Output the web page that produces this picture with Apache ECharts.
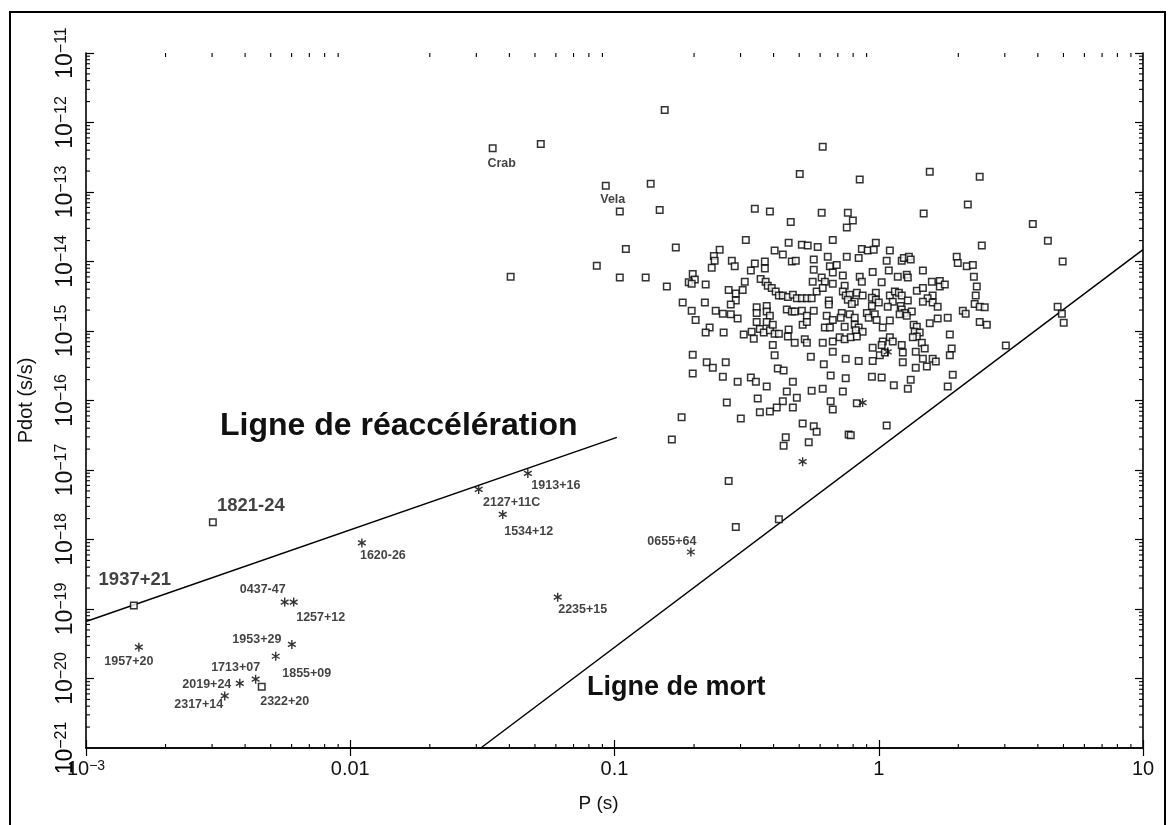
<!DOCTYPE html>
<html>
<head>
<meta charset="utf-8">
<title>Diagramme P – Pdot des pulsars</title>
<script src="https://cdn.jsdelivr.net/npm/echarts/dist/echarts.min.js"></script>
<style>
  html, body { margin: 0; padding: 0; background: #ffffff; }
  #chart { width: 1168px; height: 825px; }
</style>
</head>
<body>
<div id="chart"></div>
<script>
// ---- Data: every pulsar is stored as [log10 P (s), log10 Pdot (s/s)] ----

// Ordinary (non-recycled) pulsars, drawn as open squares
const normalPulsars = [
  [-0.768,-13.80],[-0.503,-13.69],[-0.602,-13.83],[-0.624,-13.92],[-0.621,-13.99],[-0.632,-14.09],[-0.556,-13.99],[-0.545,-14.07],[-0.484,-14.13],[-0.469,-14.03],
  [-0.431,-14.00],[-0.431,-14.10],[-0.394,-13.84],[-0.363,-13.90],[-0.341,-13.73],[-0.291,-13.76],[-0.269,-13.77],[-0.231,-13.79],[-0.174,-13.69],[-0.121,-13.51],
  [-0.329,-14.00],[-0.314,-13.99],[-0.246,-13.97],[-0.193,-13.93],[-0.121,-13.93],[-0.246,-14.12],[-0.185,-14.07],[-0.159,-14.05],[-0.174,-14.16],[-0.136,-14.20],
  [-0.704,-14.18],[-0.696,-14.26],[-0.719,-14.30],[-0.708,-14.32],[-0.802,-14.36],[-0.655,-14.33],[-0.507,-14.29],[-0.447,-14.25],[-0.428,-14.29],[-0.420,-14.35],
  [-0.405,-14.38],[-0.390,-14.43],[-0.378,-14.49],[-0.363,-14.49],[-0.344,-14.51],[-0.325,-14.48],[-0.310,-14.53],[-0.291,-14.53],[-0.272,-14.53],[-0.254,-14.53],
  [-0.235,-14.43],[-0.250,-14.29],[-0.216,-14.23],[-0.204,-14.29],[-0.212,-14.38],[-0.174,-14.32],[-0.129,-14.35],[-0.136,-14.43],[-0.125,-14.49],[-0.189,-14.56],
  [-0.189,-14.62],[-0.568,-14.41],[-0.541,-14.46],[-0.515,-14.41],[-0.541,-14.56],[-0.560,-14.62],[-0.742,-14.59],[-0.658,-14.59],[-0.708,-14.71],[-0.617,-14.71],
  [-0.590,-14.75],[-0.560,-14.76],[-0.534,-14.82],[-0.693,-14.84],[-0.462,-14.66],[-0.462,-14.74],[-0.424,-14.64],[-0.424,-14.72],[-0.412,-14.78],[-0.462,-14.87],
  [-0.424,-14.87],[-0.348,-14.69],[-0.329,-14.72],[-0.318,-14.72],[-0.291,-14.71],[-0.272,-14.78],[-0.246,-14.71],[-0.197,-14.78],[-0.174,-14.84],[-0.140,-14.74],
  [-0.144,-14.81],[-0.288,-14.91],[-0.272,-14.87],[-0.640,-14.95],[-0.655,-15.02],[-0.587,-15.02],[-0.511,-15.05],[-0.481,-15.01],[-0.473,-15.11],[-0.450,-14.97],
  [-0.435,-15.02],[-0.412,-14.99],[-0.401,-14.91],[-0.394,-15.04],[-0.378,-15.04],[-0.341,-14.98],[-0.344,-15.08],[-0.401,-15.20],[-0.318,-15.17],[-0.280,-15.12],
  [-0.272,-15.17],[-0.212,-15.17],[-0.204,-14.95],[-0.185,-14.95],[-0.174,-15.15],[-0.148,-15.09],[-0.129,-15.12],
  [-0.011,-13.73],[-0.064,-13.82],[-0.042,-13.84],[-0.019,-13.83],[0.042,-13.84],[0.390,-13.77],[-0.076,-13.95],[0.030,-13.99],[0.087,-13.99],[0.095,-13.95],
  [0.114,-13.93],[0.121,-13.97],[0.295,-13.93],[0.299,-14.02],[0.333,-14.07],[0.356,-14.05],[-0.072,-14.22],[-0.064,-14.29],[-0.023,-14.15],[0.038,-14.13],
  [0.072,-14.22],[0.106,-14.19],[0.110,-14.23],[0.167,-14.13],[0.360,-14.22],[0.011,-14.30],[0.201,-14.29],[0.231,-14.28],[0.231,-14.36],[0.250,-14.33],
  [-0.110,-14.48],[-0.083,-14.45],[-0.061,-14.49],[-0.117,-14.55],[-0.091,-14.58],[-0.102,-14.61],[-0.011,-14.45],[-0.026,-14.52],[-0.011,-14.55],[0.000,-14.59],
  [-0.026,-14.64],[0.042,-14.49],[0.061,-14.43],[0.076,-14.45],[0.087,-14.49],[0.053,-14.58],[0.034,-14.65],[0.110,-14.56],[0.144,-14.42],[0.167,-14.38],
  [0.204,-14.49],[0.185,-14.53],[0.167,-14.58],[0.204,-14.59],[0.223,-14.65],[0.083,-14.64],[0.087,-14.69],[0.098,-14.74],[0.079,-14.76],[0.125,-14.72],
  [0.371,-14.36],[0.367,-14.49],[0.363,-14.61],[0.382,-14.65],[0.401,-14.66],[0.318,-14.71],[0.329,-14.75],[-0.110,-14.76],[-0.091,-14.81],[-0.045,-14.74],
  [-0.038,-14.81],[-0.015,-14.76],[-0.008,-14.84],[0.042,-14.85],[0.106,-14.78],[0.132,-14.91],[0.144,-14.94],[0.193,-14.89],[0.223,-14.82],[0.261,-14.81],
  [0.382,-14.87],[0.409,-14.91],[-0.129,-14.94],[-0.091,-14.91],[-0.076,-14.95],[-0.087,-14.99],[-0.061,-15.01],[-0.106,-15.09],[-0.083,-15.08],[0.015,-14.95],
  [0.136,-15.01],[0.155,-15.02],[0.144,-15.08],[0.129,-15.09],[0.163,-15.17],[0.269,-15.05],[0.042,-15.09],[0.053,-15.15],[0.015,-15.15],[0.011,-15.20],
  [0.087,-15.20],[-0.023,-15.24],[0.174,-15.25],[0.276,-15.25],[0.481,-15.21],
  [-0.704,-15.34],[-0.651,-15.45],[-0.628,-15.53],[-0.579,-15.45],[-0.704,-15.61],[-0.590,-15.66],[-0.534,-15.73],[-0.484,-15.67],[-0.465,-15.73],[-0.424,-15.80],
  [-0.394,-15.35],[-0.174,-15.30],[-0.125,-15.40],
  [-0.257,-15.37],[-0.208,-15.48],[-0.382,-15.54],[-0.360,-15.57],[-0.325,-15.73],[-0.348,-15.87],[-0.254,-15.86],[-0.212,-15.83],[-0.136,-15.87],[-0.182,-15.64],
  [-0.125,-15.68],[-0.458,-15.97],[-0.575,-16.03],[-0.310,-15.96],[-0.363,-16.01],[-0.386,-16.10],[-0.412,-16.16],[-0.450,-16.17],[-0.325,-16.10],[-0.182,-16.01],
  [-0.174,-16.13],[-0.746,-16.24],[-0.522,-16.26],[-0.288,-16.33],[-0.246,-16.37],[-0.235,-16.45],[-0.352,-16.53],[-0.360,-16.65],[-0.265,-16.60],[-0.783,-16.56],
  [-0.114,-16.49],
  [0.004,-15.35],[0.023,-15.31],[0.091,-15.31],[0.140,-15.30],[-0.076,-15.43],[-0.023,-15.43],[0.091,-15.45],[0.167,-15.40],[0.204,-15.40],[0.216,-15.44],
  [0.182,-15.51],[0.140,-15.53],[0.269,-15.35],[-0.026,-15.66],[0.011,-15.67],[0.057,-15.78],[0.121,-15.70],[0.110,-15.83],[0.280,-15.63],
  [0.261,-15.80],[-0.083,-16.04],[0.030,-16.36],[-0.106,-16.50],
  [-1.279,-12.31],[-0.810,-11.82],[-0.980,-13.28],[-0.863,-12.88],[-0.829,-13.26],[-0.957,-13.82],[-1.067,-14.06],[-0.980,-14.23],[-0.882,-14.23],[-1.393,-14.22],
  [-0.212,-12.35],[-0.299,-12.74],[-0.469,-13.24],[-0.412,-13.28],[-0.072,-12.82],[-0.117,-13.30],[-0.098,-13.41],[-0.216,-13.30],[0.193,-12.71],[0.170,-13.31],
  [0.382,-12.78],[0.337,-13.18],[-0.333,-13.43],
  [0.583,-13.46],[0.640,-13.70],[0.696,-14.00],[0.677,-14.65],[0.693,-14.75],[0.700,-14.88],
  [-0.568,-17.16],[-0.541,-17.82],[-0.378,-17.71]
];

// Named pulsars drawn as open squares
const namedSquareNames = ['Crab', 'Vela', '1937+21', '1821-24', '2322+20'];
const namedSquareLog = [[-1.461,-12.37],[-1.033,-12.91],[-2.819,-18.95],[-2.520,-17.75],[-2.335,-20.12]];

// Recycled / binary pulsars drawn as asterisks
const starNames = ['1957+20','0437-47','1257+12','1953+29','1855+09','1713+07','2019+24','2317+14',
                   '1620-26','2127+11C','1913+16','1534+12','2235+15','0655+64'];
const starLog = [[-2.800,-19.55],[-2.248,-18.90],[-2.214,-18.90],[-2.221,-19.51],[-2.282,-19.68],[-2.358,-20.01],
                 [-2.418,-20.07],[-2.475,-20.25],[-1.956,-18.05],[-1.514,-17.28],[-1.328,-17.05],[-1.423,-17.64],
                 [-1.215,-18.83],[-0.711,-18.18]];
const unnamedStarLog = [[-0.288,-16.88],[0.034,-15.30],[-0.061,-16.03]];

// Spin-up ("réaccélération") line and death line, as end points
const spinUpLineLog = [[-3.000,-19.18],[-0.991,-16.53]];
const deathLineLog = [[-1.506,-21.00],[1.000,-13.83]];

// Axis ranges and tick labels
const xRange = [1e-3, 10];
const yRange = [1e-21, 1e-11];
const xTickLabels = ['10^-3', '0.01', '0.1', '1', '10'];
const yTickLabels = ['10^-21','10^-20','10^-19','10^-18','10^-17','10^-16','10^-15','10^-14','10^-13','10^-12','10^-11'];

// ---- Presentation ----
const FONT = '"Liberation Sans", Arial, Helvetica, sans-serif';
const INK = '#111';
const Y_LABEL_MARGIN = 5;

// pixel offsets of the name tags relative to their marker
const tagOffset = {
  'Crab': [9, 15], 'Vela': [7, 14], '1937+21': [1, -26], '1821-24': [38, -16], '2322+20': [23, 15],
  '1957+20': [-10, 14], '0437-47': [-22, -13], '1257+12': [27, 15], '1953+29': [-35, -5],
  '1855+09': [31, 17], '1713+07': [-20, -12], '2019+24': [-33, 1], '2317+14': [-26, 9],
  '1620-26': [21, 13], '2127+11C': [33, 13], '1913+16': [28, 12], '1534+12': [26, 17],
  '2235+15': [25, 12], '0655+64': [-19, -10]
};
const bigTags = { '1937+21': true, '1821-24': true };

const toValue = p => [Math.pow(10, p[0]), Math.pow(10, p[1])];

function richTick(s) {
  const i = s.indexOf('^');
  if (i < 0) return '{b|' + s + '}';
  return '{b|' + s.slice(0, i) + '}{s|' + s.slice(i + 1).replace('-', '\u2212') + '}';
}
function tickText(list, minExp) {
  return v => {
    const k = Math.round(Math.log10(v)) - minExp;
    return list[k] !== undefined ? richTick(list[k]) : '';
  };
}
function tickRich(size, supSize) {
  return {
    b: { fontSize: size, fontFamily: FONT, color: INK, verticalAlign: 'top', lineHeight: size + 4 },
    s: { fontSize: supSize, fontFamily: FONT, color: INK, verticalAlign: 'top', lineHeight: supSize }
  };
}
const yRich = tickRich(23, 16);

// Minor ticks (2..9 within each decade) on all four sides
const minorX = [];
for (let e = -3; e < 1; e++) for (let m = 2; m <= 9; m++) minorX.push(m * Math.pow(10, e));
const minorY = [];
for (let e = -21; e < -11; e++) for (let m = 2; m <= 9; m++) minorY.push(m * Math.pow(10, e));
const MINOR_LEN = 4;
const tickStyle = { stroke: '#000', lineWidth: 1.1 };

function namedData(names, logs) {
  return names.map((n, i) => ({
    name: n,
    value: toValue(logs[i]),
    label: {
      show: true,
      formatter: n,
      position: 'inside',
      offset: tagOffset[n] || [0, 0],
      fontFamily: FONT,
      fontWeight: 'bold',
      fontSize: bigTags[n] ? 18.5 : 12.5,
      color: INK
    }
  }));
}

const squareStyle = { color: '#ffffff', borderColor: '#000', borderWidth: 1.5 };
const starSymbol = 'path://M5,0L5,10M0.67,2.5L9.33,7.5M0.67,7.5L9.33,2.5';
const starStyle = { color: 'transparent', borderColor: '#000', borderWidth: 1.4 };

const chart = echarts.init(document.getElementById('chart'), null, { renderer: 'canvas' });

const mainAxisLine = { show: true, lineStyle: { color: '#000', width: 1.6 } };
const majorTick = { show: true, inside: true, length: 8, lineStyle: { color: '#000', width: 1.2 } };

const option = {
  backgroundColor: '#ffffff',
  animation: false,
  grid: { left: 86, right: 25, top: 53, bottom: 77, containLabel: false, outerBoundsMode: 'none' },
  xAxis: [
    {
      type: 'log', logBase: 10, min: xRange[0], max: xRange[1], position: 'bottom',
      name: 'P (s)', nameLocation: 'middle', nameGap: 46, nameMoveOverlap: false,
      nameTextStyle: { fontFamily: FONT, fontSize: 19, color: INK, padding: [0, 32, 0, 0] },
      axisLine: mainAxisLine, axisTick: majorTick,
      axisLabel: { show: true, margin: 11, showMinLabel: true, showMaxLabel: true, hideOverlap: false,
                   formatter: tickText(xTickLabels, -3), rich: tickRich(20, 14) },
      splitLine: { show: false }
    },
    {
      type: 'log', logBase: 10, min: xRange[0], max: xRange[1], position: 'top',
      axisLine: mainAxisLine, axisTick: majorTick,
      axisLabel: { show: false }, splitLine: { show: false }
    }
  ],
  yAxis: [
    {
      type: 'log', logBase: 10, min: yRange[0], max: yRange[1], position: 'left', splitNumber: 10,
      name: 'Pdot (s/s)', nameLocation: 'middle', nameGap: 50, nameRotate: 90, nameMoveOverlap: false,
      nameTextStyle: { fontFamily: FONT, fontSize: 20, color: INK },
      axisLine: mainAxisLine, axisTick: majorTick,
      axisLabel: { show: true, rotate: 90, margin: Y_LABEL_MARGIN, showMinLabel: true, showMaxLabel: true, hideOverlap: false,
                   formatter: tickText(yTickLabels, -21), rich: yRich },
      splitLine: { show: false }
    },
    {
      type: 'log', logBase: 10, min: yRange[0], max: yRange[1], position: 'right', splitNumber: 10,
      axisLine: mainAxisLine, axisTick: majorTick,
      axisLabel: { show: false }, splitLine: { show: false }
    }
  ],
  series: [
    {
      name: 'minorX', type: 'custom', silent: true, clip: false, z: 5,
      data: minorX.map(v => [v, yRange[0]]),
      renderItem: (params, api) => {
        const v = api.value(0);
        const b = api.coord([v, yRange[0]]);
        const t = api.coord([v, yRange[1]]);
        return { type: 'group', children: [
          { type: 'line', shape: { x1: b[0], y1: b[1], x2: b[0], y2: b[1] - MINOR_LEN }, style: tickStyle },
          { type: 'line', shape: { x1: t[0], y1: t[1], x2: t[0], y2: t[1] + MINOR_LEN }, style: tickStyle }
        ] };
      }
    },
    {
      name: 'minorY', type: 'custom', silent: true, clip: false, z: 5,
      data: minorY.map(v => [xRange[0], v]),
      renderItem: (params, api) => {
        const v = api.value(1);
        const l = api.coord([xRange[0], v]);
        const r = api.coord([xRange[1], v]);
        return { type: 'group', children: [
          { type: 'line', shape: { x1: l[0], y1: l[1], x2: l[0] + MINOR_LEN, y2: l[1] }, style: tickStyle },
          { type: 'line', shape: { x1: r[0], y1: r[1], x2: r[0] - MINOR_LEN, y2: r[1] }, style: tickStyle }
        ] };
      }
    },
    {
      // the lowest Pdot decade label sits in the corner next to the 10^-3 label
      name: 'yMinLabel', type: 'custom', silent: true, clip: false, z: 6,
      data: [[xRange[0], yRange[0]]],
      renderItem: (params, api) => {
        const p = api.coord([api.value(0), api.value(1)]);
        return {
          type: 'text', x: p[0] - Y_LABEL_MARGIN, y: p[1], rotation: Math.PI / 2,
          style: { text: richTick(yTickLabels[0]), rich: yRich, align: 'center', verticalAlign: 'bottom' }
        };
      }
    },
    {
      name: 'Ligne de réaccélération', type: 'line', silent: true, symbol: 'none',
      data: spinUpLineLog.map(toValue),
      lineStyle: { color: '#000', width: 1.5 }, z: 3
    },
    {
      name: 'Ligne de mort', type: 'line', silent: true, symbol: 'none',
      data: deathLineLog.map(toValue),
      lineStyle: { color: '#000', width: 1.5 }, z: 3
    },
    {
      name: 'pulsars', type: 'scatter', symbol: 'rect', symbolSize: 6.5,
      data: normalPulsars.map(toValue), itemStyle: squareStyle, z: 4
    },
    {
      name: 'pulsars nommés', type: 'scatter', symbol: 'rect', symbolSize: 6.5,
      data: namedData(namedSquareNames, namedSquareLog), itemStyle: squareStyle, z: 4
    },
    {
      name: 'pulsars recyclés', type: 'scatter', symbol: starSymbol, symbolSize: 9, symbolKeepAspect: true,
      data: namedData(starNames, starLog), itemStyle: starStyle, z: 4
    },
    {
      name: 'autres', type: 'scatter', symbol: starSymbol, symbolSize: 9, symbolKeepAspect: true,
      data: unnamedStarLog.map(toValue), itemStyle: starStyle, z: 4
    }
  ],
  graphic: [
    { type: 'rect', silent: true, z: 0,
      shape: { x: 10, y: 12, width: 1155, height: 840 },
      style: { fill: 'none', stroke: '#000', lineWidth: 2 } },
    { type: 'text', silent: true, left: 220, top: 410, z: 10,
      style: { text: 'Ligne de réaccélération', font: 'bold 32px ' + FONT, fill: INK } },
    { type: 'text', silent: true, left: 587, top: 674, z: 10,
      style: { text: 'Ligne de mort', font: 'bold 27px ' + FONT, fill: INK } }
  ]
};

chart.setOption(option);
</script>
</body>
</html>
